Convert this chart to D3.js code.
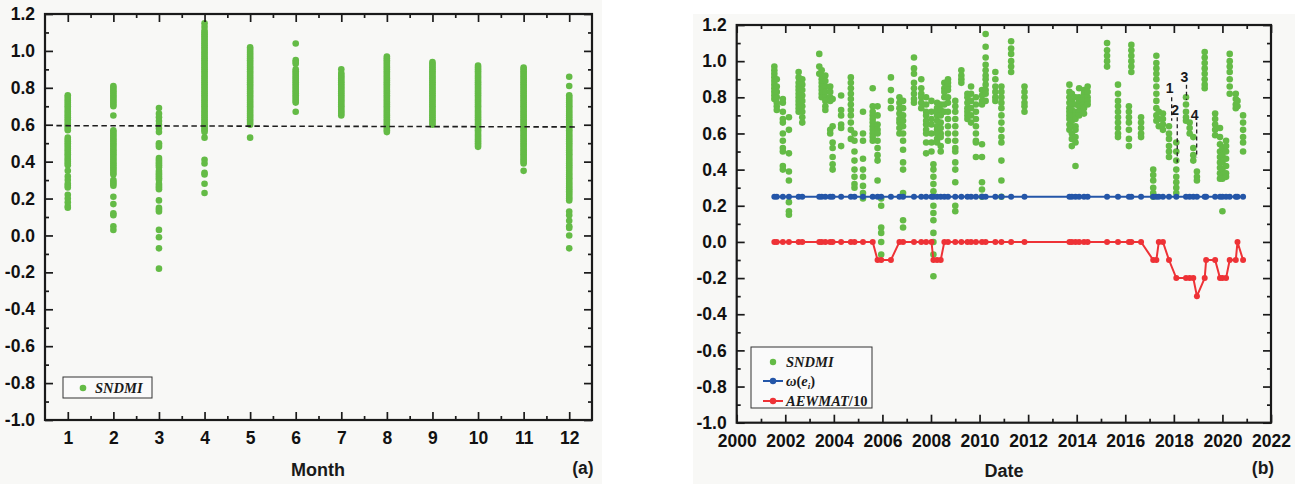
<!DOCTYPE html>
<html>
<head>
<meta charset="utf-8">
<script src="https://cdn.jsdelivr.net/npm/d3@7"></script>
<style>
  html, body { margin: 0; padding: 0; background: #fff; }
  svg { display: block; }
  .tick text { font-family: Arial, "Liberation Sans", sans-serif; font-weight: bold; font-size: 17.5px; fill: #111; }
</style>
</head>
<body>
<div id="chart"></div>
<script>
// ---------------------------------------------------------------------------
// DATA
// ---------------------------------------------------------------------------

// Panel (a): SNDMI values grouped by month
const months = [1, 2, 3, 4, 5, 6, 7, 8, 9, 10, 11, 12];
const sndmiByMonth = [
  [0.76,0.75,0.74,0.73,0.72,0.71,0.70,0.69,0.68,0.67,0.66,0.65,0.64,0.63,0.62,0.61,0.60,0.59,0.58,0.57,0.53,0.52,0.51,0.50,0.49,0.48,0.47,0.46,0.45,0.44,0.43,0.42,0.41,0.40,0.39,0.38,0.35,0.32,0.30,0.28,0.27,0.26,0.22,0.20,0.18,0.16,0.15],
  [0.81,0.80,0.79,0.78,0.77,0.76,0.75,0.74,0.73,0.72,0.71,0.70,0.65,0.57,0.56,0.55,0.54,0.53,0.52,0.51,0.50,0.49,0.48,0.47,0.46,0.45,0.44,0.43,0.42,0.41,0.40,0.39,0.38,0.37,0.36,0.35,0.34,0.33,0.30,0.29,0.28,0.27,0.21,0.17,0.12,0.11,0.05,0.03],
  [0.69,0.66,0.64,0.62,0.60,0.58,0.56,0.50,0.49,0.48,0.42,0.41,0.40,0.39,0.38,0.37,0.35,0.34,0.33,0.32,0.31,0.30,0.28,0.27,0.26,0.25,0.19,0.15,0.14,0.13,0.03,-0.01,-0.07,-0.18],
  [1.15,1.13,1.11,1.10,1.09,1.08,1.07,1.06,1.05,1.04,1.03,1.02,1.01,1.00,0.99,0.98,0.97,0.96,0.95,0.94,0.93,0.92,0.91,0.90,0.89,0.88,0.87,0.86,0.85,0.84,0.83,0.82,0.81,0.80,0.79,0.78,0.77,0.76,0.75,0.74,0.73,0.72,0.71,0.70,0.69,0.68,0.67,0.66,0.65,0.64,0.63,0.62,0.61,0.60,0.59,0.58,0.57,0.56,0.53,0.41,0.39,0.34,0.33,0.28,0.23],
  [1.02,1.01,1.00,0.99,0.98,0.97,0.96,0.95,0.94,0.93,0.92,0.91,0.90,0.89,0.88,0.87,0.86,0.85,0.84,0.83,0.82,0.81,0.80,0.79,0.78,0.77,0.76,0.75,0.74,0.73,0.72,0.71,0.70,0.69,0.68,0.67,0.66,0.65,0.64,0.63,0.62,0.61,0.60,0.53],
  [1.04,0.95,0.94,0.93,0.90,0.89,0.88,0.87,0.86,0.85,0.84,0.83,0.82,0.81,0.80,0.79,0.78,0.77,0.76,0.75,0.74,0.73,0.72,0.67],
  [0.90,0.88,0.87,0.86,0.85,0.84,0.83,0.82,0.81,0.80,0.79,0.78,0.77,0.76,0.75,0.74,0.73,0.72,0.71,0.70,0.69,0.68,0.67,0.66,0.65],
  [0.97,0.96,0.95,0.94,0.93,0.92,0.91,0.90,0.89,0.88,0.87,0.86,0.85,0.84,0.83,0.82,0.81,0.80,0.79,0.78,0.77,0.76,0.75,0.74,0.73,0.72,0.71,0.70,0.69,0.68,0.67,0.66,0.65,0.64,0.63,0.62,0.61,0.60,0.59,0.58,0.57,0.56],
  [0.94,0.93,0.92,0.91,0.90,0.89,0.88,0.87,0.86,0.85,0.84,0.83,0.82,0.81,0.80,0.79,0.78,0.77,0.76,0.75,0.74,0.73,0.72,0.71,0.70,0.69,0.68,0.67,0.66,0.65,0.64,0.63,0.62,0.61,0.60],
  [0.92,0.91,0.90,0.89,0.88,0.87,0.86,0.85,0.84,0.83,0.82,0.81,0.80,0.79,0.78,0.77,0.76,0.75,0.74,0.73,0.72,0.71,0.70,0.69,0.68,0.67,0.66,0.65,0.64,0.63,0.62,0.61,0.60,0.59,0.58,0.57,0.56,0.55,0.54,0.53,0.52,0.51,0.50,0.49,0.48],
  [0.91,0.90,0.89,0.88,0.87,0.86,0.85,0.84,0.83,0.82,0.81,0.80,0.79,0.78,0.77,0.76,0.75,0.74,0.73,0.72,0.71,0.70,0.69,0.68,0.67,0.66,0.65,0.64,0.63,0.62,0.61,0.60,0.59,0.58,0.57,0.56,0.55,0.54,0.53,0.52,0.51,0.50,0.49,0.48,0.47,0.46,0.45,0.44,0.43,0.42,0.41,0.40,0.39,0.35],
  [0.86,0.81,0.76,0.75,0.74,0.73,0.72,0.71,0.70,0.69,0.68,0.67,0.66,0.65,0.64,0.63,0.62,0.61,0.60,0.59,0.58,0.57,0.56,0.55,0.54,0.53,0.52,0.51,0.50,0.49,0.48,0.47,0.46,0.45,0.44,0.43,0.42,0.41,0.40,0.39,0.38,0.37,0.36,0.35,0.34,0.33,0.32,0.31,0.30,0.29,0.28,0.27,0.26,0.25,0.24,0.23,0.22,0.21,0.20,0.19,0.13,0.11,0.08,0.05,0.04,0.00,-0.07]
];
// dashed reference level in panel (a)
const thresholdMonths = [0.75, 12.2];
const thresholdValues = [0.595, 0.588];
const monthTicks = [1, 2, 3, 4, 5, 6, 7, 8, 9, 10, 11, 12];

// Panel (b): observation dates, SNDMI per date, omega(e_i), AEWMAT/10
const obsDates = [
  2001.55, 2001.65, 2001.90, 2002.15, 2002.55, 2002.70, 2003.40, 2003.50, 2003.65, 2003.85,
  2003.95, 2004.30, 2004.70, 2004.85, 2005.20, 2005.60, 2005.80, 2005.95, 2006.35, 2006.70,
  2006.85, 2007.30, 2007.60, 2007.80, 2008.02, 2008.10, 2008.25, 2008.40, 2008.55, 2008.70,
  2009.00, 2009.25, 2009.50, 2009.65, 2009.85, 2010.10, 2010.25, 2010.65, 2010.90, 2011.30,
  2011.85, 2013.70, 2013.80, 2013.95, 2014.10, 2014.30, 2014.45, 2015.25, 2015.70, 2016.15,
  2016.25, 2016.65, 2017.15, 2017.28, 2017.38, 2017.55, 2017.80, 2018.10, 2018.50, 2018.65,
  2018.80, 2018.95, 2019.27, 2019.33, 2019.70, 2019.90, 2020.00, 2020.15, 2020.30, 2020.55,
  2020.62, 2020.85
];
const sndmiByDate = [
  [0.97,0.95,0.93,0.91,0.89,0.87,0.85,0.83,0.81,0.79],
  [0.90,0.86,0.83,0.80,0.77,0.75,0.73],
  [0.79,0.77,0.72,0.68,0.66,0.60,0.56,0.52,0.50,0.42,0.40],
  [0.69,0.62,0.49,0.39,0.34,0.22,0.17,0.15],
  [0.94,0.91,0.88,0.86,0.84,0.82,0.80,0.78,0.76,0.74,0.72],
  [0.90,0.87,0.84,0.81,0.78,0.75,0.72,0.69,0.66],
  [1.04,0.97,0.93],
  [0.95,0.92,0.90,0.88,0.86,0.84,0.82,0.80],
  [0.92,0.89,0.86,0.83,0.80,0.78,0.75,0.73],
  [0.86,0.83,0.80,0.78,0.62,0.60],
  [0.79,0.64,0.55,0.52,0.47,0.43,0.40],
  [0.81,0.73,0.70,0.65,0.63,0.53],
  [0.91,0.88,0.85,0.82,0.79,0.76,0.73,0.70,0.66,0.62,0.57],
  [0.60,0.56,0.50,0.45,0.40,0.36,0.32,0.30],
  [0.72,0.60,0.56,0.46,0.40,0.36,0.31,0.27,0.24],
  [0.85,0.75,0.72,0.70,0.68,0.66,0.64,0.62,0.60,0.58,0.56],
  [0.75,0.70,0.65,0.62,0.60,0.56,0.52,0.48,0.45,0.34],
  [0.24,0.20,0.08,0.05,0.00,-0.07],
  [0.91,0.84,0.78,0.74],
  [0.80,0.77,0.74,0.71,0.68,0.66,0.63,0.60],
  [0.78,0.74,0.70,0.67,0.64,0.60,0.56,0.51,0.44,0.40,0.27,0.12,0.08],
  [1.02,0.96,0.93,0.88,0.85,0.82,0.79,0.77],
  [0.90,0.85,0.82,0.80,0.77,0.74],
  [0.80,0.76,0.72,0.70,0.67,0.65,0.62,0.60,0.55,0.49],
  [0.78,0.72,0.68,0.65,0.60,0.55,0.50],
  [0.43,0.40,0.36,0.32,0.28,0.20,0.16,0.12,0.05,0.00,-0.07,-0.19],
  [0.77,0.74,0.72,0.70,0.67,0.64,0.62,0.60,0.57,0.55],
  [0.76,0.73,0.70,0.66,0.63,0.60,0.58,0.53,0.50],
  [0.88,0.85,0.83,0.80,0.76,0.72],
  [0.90,0.88,0.86,0.84,0.80,0.77,0.72,0.68,0.64,0.60,0.56],
  [0.78,0.75,0.72,0.68,0.64,0.60,0.56,0.52,0.50,0.44,0.40,0.33,0.20,0.17],
  [0.95,0.92,0.90,0.88],
  [0.82,0.80,0.77,0.74,0.72,0.70,0.68],
  [0.86,0.82,0.78,0.74,0.70,0.66],
  [0.80,0.76,0.72,0.68,0.64,0.60,0.56,0.55,0.47],
  [0.84,0.81,0.78,0.76,0.54,0.47,0.33,0.29,0.25],
  [1.15,1.08,1.02,0.98,0.95,0.92,0.90,0.87,0.84,0.82,0.78],
  [0.94,0.90,0.86,0.83,0.80,0.78],
  [0.86,0.83,0.80,0.77,0.74,0.70,0.66,0.62,0.58,0.55,0.45,0.34,0.25],
  [1.11,1.07,1.04,1.00,0.97,0.94],
  [0.86,0.83,0.80,0.77,0.75,0.72],
  [0.87,0.83,0.80,0.77,0.74,0.72,0.70,0.68,0.65,0.62],
  [0.82,0.78,0.76,0.73,0.70,0.67,0.64,0.60,0.57,0.53],
  [0.80,0.76,0.72,0.70,0.68,0.64,0.62,0.58,0.55,0.42],
  [0.85,0.80,0.78,0.75,0.72,0.70],
  [0.84,0.82,0.80,0.78,0.76,0.74,0.71],
  [0.86,0.83,0.80,0.78,0.76],
  [1.10,1.06,1.03,1.00,0.97],
  [0.87,0.82,0.78,0.75,0.72,0.69,0.66,0.63,0.60,0.58],
  [0.75,0.72,0.69,0.66,0.62,0.57,0.53],
  [1.09,1.06,1.03,1.00,0.97,0.94],
  [0.69,0.66,0.63,0.60,0.58],
  [0.40,0.37,0.34,0.30,0.27,0.25],
  [1.03,0.99,0.96,0.93,0.90,0.86,0.82,0.78,0.74,0.70,0.67],
  [0.72,0.68,0.64],
  [0.71,0.68,0.65,0.62],
  [0.64,0.60,0.57,0.53,0.50,0.47],
  [0.55,0.50,0.45,0.40,0.36,0.33,0.30,0.27],
  [0.80,0.76,0.72,0.69,0.67],
  [0.66,0.63,0.60],
  [0.58,0.52,0.48,0.45],
  [0.39,0.36,0.34],
  [1.05,1.02,0.99,0.96,0.93,0.90,0.87,0.85],
  [],
  [0.71,0.68,0.65,0.62,0.59],
  [0.63,0.58,0.54,0.50,0.47,0.44,0.41,0.38,0.35],
  [0.52,0.48,0.44,0.40,0.37,0.35,0.17],
  [0.56,0.53,0.50,0.46,0.42,0.38,0.36],
  [1.04,1.00,0.97,0.94,0.90,0.86,0.82],
  [0.82,0.79,0.76,0.74],
  [0.78,0.75],
  [0.70,0.66,0.62,0.58,0.55,0.50]
];
const omegaValues = [
  0.25,0.25,0.25,0.25,0.25,0.25,0.25,0.25,0.25,0.25,0.25,0.25,0.25,0.25,0.25,0.25,0.25,0.25,
  0.25,0.25,0.25,0.25,0.25,0.25,0.25,0.25,0.25,0.25,0.25,0.25,0.25,0.25,0.25,0.25,0.25,0.25,
  0.25,0.25,0.25,0.25,0.25,0.25,0.25,0.25,0.25,0.25,0.25,0.25,0.25,0.25,0.25,0.25,0.25,0.25,
  0.25,0.25,0.25,0.25,0.25,0.25,0.25,0.25,0.25,0.25,0.25,0.25,0.25,0.25,0.25,0.25,0.25,0.25
];
const aewmatValues = [
  0, 0, 0, 0, 0, 0, 0, 0, 0, 0,
  0, 0, 0, 0, 0, 0, -0.1, -0.1, -0.1, 0,
  0, 0, 0, 0, 0, -0.1, -0.1, -0.1, 0, 0,
  0, 0, 0, 0, 0, 0, 0, 0, 0, 0,
  0, 0, 0, 0, 0, 0, 0, 0, 0, 0,
  0, 0, -0.1, -0.1, 0, 0, -0.1, -0.2, -0.2, -0.2,
  -0.2, -0.3, -0.2, -0.1, -0.1, -0.2, -0.2, -0.2, -0.1, -0.1,
  0, -0.1
];
// numbered change points: label, date, dashed segment top / bottom, label level
const markLabels = ['1', '2', '3', '4'];
const markDates = [2017.91, 2018.14, 2018.52, 2018.94];
const markTops = [0.80, 0.69, 0.87, 0.66];
const markBottoms = [0.67, 0.44, 0.785, 0.465];
const markLabelValues = [0.85, 0.73, 0.91, 0.70];
const yearTicks = [2000, 2002, 2004, 2006, 2008, 2010, 2012, 2014, 2016, 2018, 2020, 2022];

const yTicks = [-1.0, -0.8, -0.6, -0.4, -0.2, 0.0, 0.2, 0.4, 0.6, 0.8, 1.0, 1.2];
const yMinor = [-0.9, -0.7, -0.5, -0.3, -0.1, 0.1, 0.3, 0.5, 0.7, 0.9, 1.1];

// ---------------------------------------------------------------------------
// DRAW
// ---------------------------------------------------------------------------
const W = 1303, H = 484;
const green = '#64bb46', blue = '#2456a8', red = '#ee3236', ink = '#1a1a1a';

const svg = d3.select('#chart').append('svg')
  .attr('width', W).attr('height', H).attr('viewBox', `0 0 ${W} ${H}`);

// light grey scan background of each panel
svg.append('rect').attr('x', 0).attr('y', 0).attr('width', 602).attr('height', H).attr('fill', '#f8f8f6');
svg.append('rect').attr('x', 693).attr('y', 14).attr('width', 602).attr('height', H - 14).attr('fill', '#f8f8f6');

function frame(x, y, majorX, minorX, fmtX) {
  const [x0, x1] = x.range();
  const [y0, y1] = y.range();
  const g = svg.append('g');
  const fmtY = d => d.toFixed(1);

  g.append('g').attr('transform', `translate(0,${y0})`)
    .call(d3.axisBottom(x).tickValues(majorX).tickSizeInner(-8).tickSizeOuter(0).tickPadding(12).tickFormat(fmtX));
  g.append('g').attr('transform', `translate(0,${y0})`)
    .call(d3.axisBottom(x).tickValues(minorX).tickSizeInner(-4).tickSizeOuter(0).tickFormat(''));
  g.append('g').attr('transform', `translate(0,${y1})`)
    .call(d3.axisTop(x).tickValues(majorX).tickSizeInner(-8).tickSizeOuter(0).tickFormat(''));
  g.append('g').attr('transform', `translate(0,${y1})`)
    .call(d3.axisTop(x).tickValues(minorX).tickSizeInner(-4).tickSizeOuter(0).tickFormat(''));
  g.append('g').attr('transform', `translate(${x0},0)`)
    .call(d3.axisLeft(y).tickValues(yTicks).tickSizeInner(-8).tickSizeOuter(0).tickPadding(10).tickFormat(fmtY));
  g.append('g').attr('transform', `translate(${x0},0)`)
    .call(d3.axisLeft(y).tickValues(yMinor).tickSizeInner(-4).tickSizeOuter(0).tickFormat(''));
  g.append('g').attr('transform', `translate(${x1},0)`)
    .call(d3.axisRight(y).tickValues(yTicks).tickSizeInner(-8).tickSizeOuter(0).tickFormat(''));
  g.append('g').attr('transform', `translate(${x1},0)`)
    .call(d3.axisRight(y).tickValues(yMinor).tickSizeInner(-4).tickSizeOuter(0).tickFormat(''));

  g.selectAll('.domain').remove();
  g.selectAll('.tick line').attr('stroke', ink).attr('stroke-width', 1.7);
  g.append('rect')
    .attr('x', x0).attr('y', y1).attr('width', x1 - x0).attr('height', y0 - y1)
    .attr('fill', 'none').attr('stroke', ink).attr('stroke-width', 2.2);
  return g;
}

function label(x, y, text, size) {
  return svg.append('text').attr('x', x).attr('y', y)
    .attr('text-anchor', 'middle')
    .attr('font-family', 'Arial, "Liberation Sans", sans-serif')
    .attr('font-weight', 'bold').attr('font-size', size).attr('fill', ink)
    .text(text);
}

const serif = '"Times New Roman", "Liberation Serif", serif';

// ---------------- Panel (a) ----------------
const xA = d3.scaleLinear().domain([0.5, 12.5]).range([45, 592]);
const yA = d3.scaleLinear().domain([-1.0, 1.2]).range([420, 14]);

const ptsA = months.flatMap((m, i) => sndmiByMonth[i].map(v => ({ m, v })));
svg.append('g').selectAll('circle').data(ptsA).join('circle')
  .attr('cx', d => xA(d.m)).attr('cy', d => yA(d.v)).attr('r', 3.3)
  .attr('fill', green);

svg.append('path')
  .datum(thresholdMonths.map((m, i) => [m, thresholdValues[i]]))
  .attr('d', d3.line().x(d => xA(d[0])).y(d => yA(d[1])))
  .attr('fill', 'none').attr('stroke', '#1e1e1e').attr('stroke-width', 1.6)
  .attr('stroke-dasharray', '5.5,3.5');

frame(xA, yA, monthTicks, monthTicks.slice(0, -1).map(m => m + 0.5), d => d);

label(318, 476, 'Month', 18);
label(583, 474, '(a)', 17.5);

// legend (a)
const legA = svg.append('g').attr('transform', 'translate(63,377)');
legA.append('rect').attr('width', 89).attr('height', 21)
  .attr('fill', '#fafafa').attr('stroke', '#333').attr('stroke-width', 1);
legA.append('circle').attr('cx', 20).attr('cy', 11).attr('r', 3.3).attr('fill', green);
legA.append('text').attr('x', 32).attr('y', 16)
  .attr('font-family', serif).attr('font-style', 'italic').attr('font-weight', 'bold')
  .attr('font-size', 14.5).attr('fill', ink).text('SNDMI');

// ---------------- Panel (b) ----------------
const xB = d3.scaleLinear().domain([2000, 2022]).range([736.7, 1271]);
const yB = d3.scaleLinear().domain([-1.0, 1.2]).range([422.7, 25]);

const ptsB = obsDates.flatMap((t, i) => sndmiByDate[i].map(v => ({ t, v })));
svg.append('g').selectAll('circle').data(ptsB).join('circle')
  .attr('cx', d => xB(d.t)).attr('cy', d => yB(d.v)).attr('r', 3.3)
  .attr('fill', green);

function series(values, color) {
  const pts = obsDates.map((t, i) => [t, values[i]]);
  const g = svg.append('g');
  g.append('path').datum(pts)
    .attr('d', d3.line().x(d => xB(d[0])).y(d => yB(d[1])))
    .attr('fill', 'none').attr('stroke', color).attr('stroke-width', 2);
  g.selectAll('circle').data(pts).join('circle')
    .attr('cx', d => xB(d[0])).attr('cy', d => yB(d[1])).attr('r', 3)
    .attr('fill', color);
}
series(omegaValues, blue);
series(aewmatValues, red);

// numbered marks
markLabels.forEach((s, i) => {
  svg.append('line')
    .attr('x1', xB(markDates[i])).attr('x2', xB(markDates[i]))
    .attr('y1', yB(markTops[i])).attr('y2', yB(markBottoms[i]))
    .attr('stroke', '#222').attr('stroke-width', 1.3).attr('stroke-dasharray', '4,3');
  label(xB(markDates[i]) - 2, yB(markLabelValues[i]) + 5, s, 14);
});

const yearMinor = yearTicks.slice(0, -1).map(y => y + 1);
frame(xB, yB, yearTicks, yearMinor, d => d);

label(1004, 477, 'Date', 18);
label(1263, 474, '(b)', 17.5);

// legend (b)
const legB = svg.append('g').attr('transform', 'translate(751,347)');
legB.append('rect').attr('width', 121).attr('height', 61)
  .attr('fill', '#fafafa').attr('stroke', '#333').attr('stroke-width', 1);
const legRows = [
  { y: 15, color: green, line: false },
  { y: 34, color: blue, line: true },
  { y: 54, color: red, line: true }
];
legRows.forEach(r => {
  if (r.line) {
    legB.append('line').attr('x1', 12).attr('x2', 32).attr('y1', r.y).attr('y2', r.y)
      .attr('stroke', r.color).attr('stroke-width', 2);
  }
  legB.append('circle').attr('cx', 22).attr('cy', r.y).attr('r', 3.2).attr('fill', r.color);
});
const legText = (y) => legB.append('text').attr('x', 35).attr('y', y)
  .attr('font-family', serif).attr('font-weight', 'bold').attr('font-size', 14.5).attr('fill', ink);
legText(20).append('tspan').attr('font-style', 'italic').text('SNDMI');
const tw = legText(39);
tw.append('tspan').attr('font-style', 'italic').text('ω');
tw.append('tspan').text('(');
tw.append('tspan').attr('font-style', 'italic').text('e');
tw.append('tspan').attr('font-style', 'italic').attr('font-size', 9).attr('dy', 3).text('i');
tw.append('tspan').attr('dy', -3).text(')');
const ta = legText(59);
ta.append('tspan').attr('font-style', 'italic').text('AEWMAT');
ta.append('tspan').text('/10');
</script>
</body>
</html>
